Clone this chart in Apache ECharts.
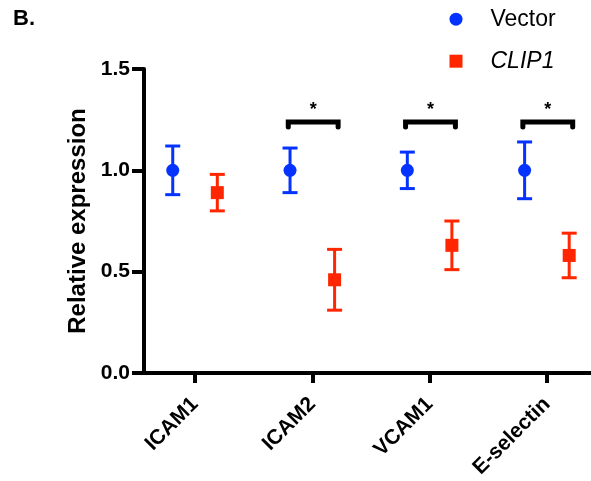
<!DOCTYPE html>
<html>
<head>
<meta charset="utf-8">
<script src="https://cdn.jsdelivr.net/npm/echarts@6/dist/echarts.min.js"></script>
<style>
  html, body { margin: 0; padding: 0; background: #fff; }
  #chart { width: 591px; height: 481px; }
</style>
</head>
<body>
<div id="chart"></div>
<script>
// data
var categories = ['ICAM1', 'ICAM2', 'VCAM1', 'E-selectin'];
var vectorMean = [1.00, 1.00, 1.00, 1.00];
var vectorErr = [0.12, 0.11, 0.09, 0.14];
var clipMean = [0.89, 0.46, 0.63, 0.58];
var clipErr = [0.09, 0.15, 0.12, 0.11];
var significant = [false, true, true, true];
var bracketLevel = 1.238;
var yTicks = [0, 0.5, 1.0, 1.5];

var FONT = 'Liberation Sans, Arial, Helvetica, sans-serif';
var BLUE = '#0433FF';
var RED = '#FF2600';
var OFF = 0.19; // horizontal dodge of the two groups
var SQUARE = 'path://M0,0H10V10H0Z';

function pts(mean, err, off) {
    return mean.map(function (m, i) { return [i + off, m, err[i]]; });
}

function errorBars(api) {
    var x = api.value(0), m = api.value(1), e = api.value(2);
    var top = api.coord([x, m + e]);
    var bot = api.coord([x, m - e]);
    var col = api.visual('color');
    var st = { stroke: col, lineWidth: 3 };
    return {
        type: 'group',
        children: [
            { type: 'line', shape: { x1: top[0], y1: top[1], x2: bot[0], y2: bot[1] }, style: st },
            { type: 'line', shape: { x1: top[0] - 7.5, y1: top[1], x2: top[0] + 7.5, y2: top[1] }, style: st },
            { type: 'line', shape: { x1: bot[0] - 7.5, y1: bot[1], x2: bot[0] + 7.5, y2: bot[1] }, style: st }
        ]
    };
}

var bracketData = [];
significant.forEach(function (s, i) { if (s) bracketData.push([i, bracketLevel]); });

var chart = echarts.init(document.getElementById('chart'));
chart.setOption({
    animation: false,
    title: {
        text: 'B.', left: 8, top: 3,
        textStyle: { fontFamily: FONT, fontSize: 22, fontWeight: 'bold', color: '#000' }
    },
    legend: {
        orient: 'vertical',
        left: 444.5, top: 1.2,
        itemWidth: 59, itemHeight: 13, itemGap: 16,
        symbolKeepAspect: true,
        data: [{ name: 'Vector', icon: 'circle' }, { name: 'CLIP1', icon: SQUARE }],
        formatter: function (n) { return n === 'CLIP1' ? '{i|CLIP1}' : n; },
        textStyle: {
            fontFamily: FONT, fontSize: 23, lineHeight: 26, color: '#000',
            rich: { i: { fontFamily: FONT, fontSize: 23, lineHeight: 26, fontStyle: 'italic', color: '#000' } }
        }
    },
    grid: { left: 144, right: 0, top: 69, bottom: 108 },
    xAxis: {
        type: 'value',
        min: -0.435, max: 3.376,
        splitLine: { show: false },
        axisLine: { onZero: false, lineStyle: { color: '#000', width: 4 } },
        axisTick: { customValues: [0, 1, 2, 3], length: 10, lineStyle: { color: '#000', width: 4 } },
        axisLabel: {
            customValues: [0, 1, 2, 3],
            rotate: 45, margin: 28,
            fontFamily: FONT, fontSize: 21, fontWeight: 'bold', color: '#000',
            formatter: function (v) { return categories[Math.round(v)]; }
        }
    },
    yAxis: {
        type: 'value',
        min: 0, max: 1.5, interval: 0.5,
        name: 'Relative expression',
        nameLocation: 'middle', nameGap: 54,
        nameTextStyle: { fontFamily: FONT, fontSize: 24, fontWeight: 'bold', color: '#000' },
        splitLine: { show: false },
        axisLine: { show: true, onZero: false, lineStyle: { color: '#000', width: 4 } },
        axisTick: { show: true, length: 12, lineStyle: { color: '#000', width: 4 } },
        axisLabel: {
            margin: 14,
            fontFamily: FONT, fontSize: 21, fontWeight: 'bold', color: '#000',
            formatter: function (v) { return v.toFixed(1); }
        }
    },
    series: [
        {
            name: 'Vector err', type: 'custom', color: BLUE, z: 2,
            renderItem: function (p, api) { return errorBars(api); },
            data: pts(vectorMean, vectorErr, -OFF)
        },
        {
            name: 'CLIP1 err', type: 'custom', color: RED, z: 2,
            renderItem: function (p, api) { return errorBars(api); },
            data: pts(clipMean, clipErr, OFF)
        },
        {
            name: 'Vector', type: 'scatter', symbol: 'circle', symbolSize: 13, z: 3,
            itemStyle: { color: BLUE, opacity: 1 },
            data: pts(vectorMean, vectorErr, -OFF)
        },
        {
            name: 'CLIP1', type: 'scatter', symbol: 'rect', symbolSize: 13, z: 3,
            itemStyle: { color: RED, opacity: 1 },
            data: pts(clipMean, clipErr, OFF)
        },
        {
            name: 'sig', type: 'custom', z: 4,
            renderItem: function (p, api) {
                var i = api.value(0), lv = api.value(1);
                var l = api.coord([i - 0.205, lv]);
                var r = api.coord([i + 0.22, lv]);
                return {
                    type: 'group',
                    children: [
                        {
                            type: 'polyline',
                            shape: { points: [[l[0], l[1] + 5], [l[0], l[1]], [r[0], r[1]], [r[0], r[1] + 5]] },
                            style: { stroke: '#000', lineWidth: 5, fill: null, lineCap: 'round', lineJoin: 'miter' }
                        },
                        {
                            type: 'text',
                            style: {
                                text: '*', x: (l[0] + r[0]) / 2, y: l[1] - 12,
                                align: 'center', verticalAlign: 'middle',
                                font: 'bold 18px ' + FONT, fill: '#000'
                            }
                        }
                    ]
                };
            },
            data: bracketData
        }
    ]
});
</script>
</body>
</html>
